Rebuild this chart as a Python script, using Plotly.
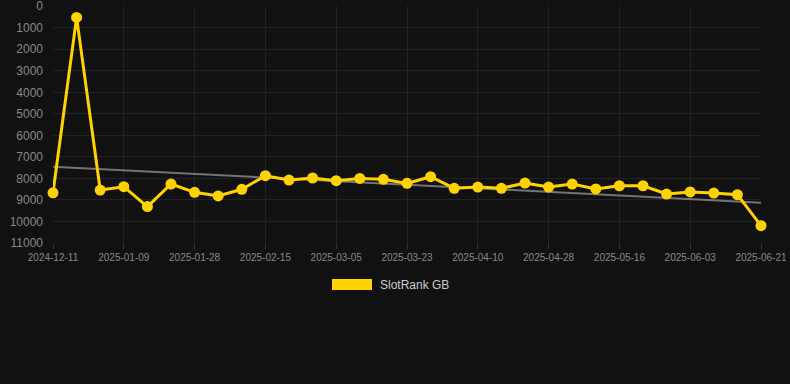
import plotly.graph_objects as go

dates = [
    "2024-12-11", "2024-12-21", "2024-12-31", "2025-01-09", "2025-01-15", "2025-01-22",
    "2025-01-28", "2025-02-03", "2025-02-09", "2025-02-15", "2025-02-21", "2025-02-27",
    "2025-03-05", "2025-03-11", "2025-03-17", "2025-03-23", "2025-03-29", "2025-04-04",
    "2025-04-10", "2025-04-16", "2025-04-22", "2025-04-28", "2025-05-04", "2025-05-10",
    "2025-05-16", "2025-05-22", "2025-05-28", "2025-06-03", "2025-06-09", "2025-06-15",
    "2025-06-21",
]
rank_gb = [
    8670, 520, 8540, 8385, 9310, 8260, 8645, 8815, 8505, 7875, 8075,
    7980, 8105, 8000, 8040, 8230, 7920, 8460, 8400, 8460, 8215,
    8400, 8260, 8490, 8340, 8340, 8725, 8630, 8680, 8755, 10195,
]
trend_dates = [dates[0], dates[-1]]
trend_values = [7455, 9125]
tick_dates = dates[::3]
y_ticks = list(range(0, 11001, 1000))
series_name = "SlotRank GB"

BG = "#111111"
GRID = "#222222"
GOLD = "#FFD200"

fig = go.Figure()
fig.add_trace(go.Scatter(
    x=trend_dates, y=trend_values, mode="lines",
    line=dict(color="rgba(150,150,150,0.75)", width=2),
    showlegend=False, hoverinfo="skip",
))
fig.add_trace(go.Scatter(
    x=dates, y=rank_gb, mode="lines+markers", name=series_name,
    line=dict(color=GOLD, width=3),
    marker=dict(color=GOLD, size=11),
    showlegend=False, cliponaxis=False,
))

fig.update_layout(
    width=790, height=384,
    paper_bgcolor=BG, plot_bgcolor=BG,
    margin=dict(l=53, r=29, t=6, b=141),
    font=dict(family="Liberation Sans, Arial, sans-serif", color="#888888"),
    xaxis=dict(
        type="category", categoryorder="array", categoryarray=dates,
        range=[0, 30], tickvals=tick_dates, ticktext=tick_dates,
        showgrid=True, gridcolor=GRID, gridwidth=1,
        zeroline=False, showline=False, automargin=False,
        ticks="outside", ticklen=5, tickcolor="#333333",
        tickfont=dict(size=10, color="#888888"),
    ),
    yaxis=dict(
        range=[11000, -10], tickmode="array", tickvals=y_ticks,
        ticktext=[str(v) for v in y_ticks],
        showgrid=True, gridcolor=GRID, gridwidth=1,
        zeroline=False, showline=False, automargin=False,
        tickfont=dict(size=12, color="#888888"),
        ticklabelstandoff=9, ticklabeloverflow="allow",
    ),
    shapes=[dict(
        type="rect", xref="paper", yref="paper",
        x0=(332 - 53) / 708, x1=(372 - 53) / 708,
        y0=(243 - 290) / 237, y1=(243 - 279) / 237,
        fillcolor=GOLD, line=dict(width=0),
    )],
    annotations=[dict(
        xref="paper", yref="paper", x=(378 - 53) / 708, y=(243 - 284.5) / 237,
        xanchor="left", yanchor="middle", text=series_name, showarrow=False,
        font=dict(size=12, color="#cccccc"),
    )],
)

fig.write_html(
    "out.html",
    config={"displayModeBar": False},
    post_script="document.body.style.margin='0';document.body.style.background='#111111';",
)
